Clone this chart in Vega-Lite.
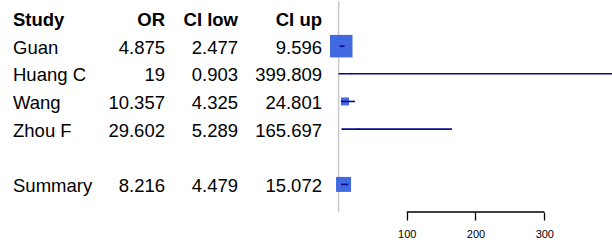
{
  "$schema": "https://vega.github.io/schema/vega-lite/v6.json",
  "padding": {"left": 13, "top": 0, "right": 0, "bottom": 0},
  "spacing": 0,
  "bounds": "flush",
  "config": {"view": {"stroke": null}, "font": "Liberation Sans"},
  "datasets": {
    "studies": [
      {"study": "Guan", "or": 4.875, "lo": 2.477, "hi": 9.596, "weight": 88, "kind": "study"},
      {"study": "Huang C", "or": 19, "lo": 0.903, "hi": 399.809, "weight": 0.4, "kind": "study"},
      {"study": "Wang", "or": 10.357, "lo": 4.325, "hi": 24.801, "weight": 11, "kind": "study"},
      {"study": "Zhou F", "or": 29.602, "lo": 5.289, "hi": 165.697, "weight": 0.6, "kind": "study"},
      {"study": "Summary", "or": 8.216, "lo": 4.479, "hi": 15.072, "weight": null, "kind": "summary"}
    ]
  },
  "hconcat": [
    {
      "width": 80, "height": 211,
      "layer": [
        {"data": {"values": [{"label": "Study"}]},
         "mark": {"type": "text", "align": "left", "baseline": "middle", "fontSize": 18.5, "fontWeight": "bold", "color": "black", "dy": 1.5},
         "encoding": {"x": {"value": 0},
           "y": {"datum": "header", "type": "nominal", "axis": null, "scale": {"type": "point", "domain": ["header", "Guan", "Huang C", "Wang", "Zhou F", "gap", "Summary"], "padding": 0.8156, "align": 0.388}},
           "text": {"field": "label", "type": "nominal"}}},
        {"data": {"name": "studies"},
         "mark": {"type": "text", "align": "left", "baseline": "middle", "fontSize": 18.5, "color": "black", "dy": 1.5},
         "encoding": {"x": {"value": 0},
           "y": {"field": "study", "type": "nominal", "axis": null, "scale": {"type": "point", "domain": ["header", "Guan", "Huang C", "Wang", "Zhou F", "gap", "Summary"], "padding": 0.8156, "align": 0.388}},
           "text": {"field": "study", "type": "nominal"}}}
      ]
    },
    {
      "width": 72, "height": 211,
      "layer": [
        {"data": {"values": [{"label": "OR"}]},
         "mark": {"type": "text", "align": "right", "baseline": "middle", "fontSize": 18.5, "fontWeight": "bold", "color": "black", "dy": 1.5},
         "encoding": {"x": {"value": "width"},
           "y": {"datum": "header", "type": "nominal", "axis": null, "scale": {"type": "point", "domain": ["header", "Guan", "Huang C", "Wang", "Zhou F", "gap", "Summary"], "padding": 0.8156, "align": 0.388}},
           "text": {"field": "label", "type": "nominal"}}},
        {"data": {"name": "studies"},
         "mark": {"type": "text", "align": "right", "baseline": "middle", "fontSize": 18.5, "color": "black", "dy": 1.5},
         "encoding": {"x": {"value": "width"},
           "y": {"field": "study", "type": "nominal", "axis": null, "scale": {"type": "point", "domain": ["header", "Guan", "Huang C", "Wang", "Zhou F", "gap", "Summary"], "padding": 0.8156, "align": 0.388}},
           "text": {"field": "or", "type": "nominal"}}}
      ]
    },
    {
      "width": 73, "height": 211,
      "layer": [
        {"data": {"values": [{"label": "CI low"}]},
         "mark": {"type": "text", "align": "right", "baseline": "middle", "fontSize": 18.5, "fontWeight": "bold", "color": "black", "dy": 1.5},
         "encoding": {"x": {"value": "width"},
           "y": {"datum": "header", "type": "nominal", "axis": null, "scale": {"type": "point", "domain": ["header", "Guan", "Huang C", "Wang", "Zhou F", "gap", "Summary"], "padding": 0.8156, "align": 0.388}},
           "text": {"field": "label", "type": "nominal"}}},
        {"data": {"name": "studies"},
         "mark": {"type": "text", "align": "right", "baseline": "middle", "fontSize": 18.5, "color": "black", "dy": 1.5},
         "encoding": {"x": {"value": "width"},
           "y": {"field": "study", "type": "nominal", "axis": null, "scale": {"type": "point", "domain": ["header", "Guan", "Huang C", "Wang", "Zhou F", "gap", "Summary"], "padding": 0.8156, "align": 0.388}},
           "text": {"field": "lo", "type": "nominal"}}}
      ]
    },
    {
      "width": 84, "height": 211,
      "layer": [
        {"data": {"values": [{"label": "CI up"}]},
         "mark": {"type": "text", "align": "right", "baseline": "middle", "fontSize": 18.5, "fontWeight": "bold", "color": "black", "dy": 1.5},
         "encoding": {"x": {"value": "width"},
           "y": {"datum": "header", "type": "nominal", "axis": null, "scale": {"type": "point", "domain": ["header", "Guan", "Huang C", "Wang", "Zhou F", "gap", "Summary"], "padding": 0.8156, "align": 0.388}},
           "text": {"field": "label", "type": "nominal"}}},
        {"data": {"name": "studies"},
         "mark": {"type": "text", "align": "right", "baseline": "middle", "fontSize": 18.5, "color": "black", "dy": 1.5},
         "encoding": {"x": {"value": "width"},
           "y": {"field": "study", "type": "nominal", "axis": null, "scale": {"type": "point", "domain": ["header", "Guan", "Huang C", "Wang", "Zhou F", "gap", "Summary"], "padding": 0.8156, "align": 0.388}},
           "text": {"field": "hi", "type": "nominal"}}}
      ]
    },
    {
      "width": 290, "height": 211,
      "layer": [
        {"data": {"values": [{"ref": 1}]},
         "mark": {"type": "rule", "color": "#c8c8c8", "strokeWidth": 1.5},
         "encoding": {"x": {"field": "ref", "type": "quantitative",
           "scale": {"domain": [-23.1, 398.4], "nice": false, "zero": false},
           "axis": {"values": [100, 200, 300], "domain": false, "grid": false, "ticks": true, "tickColor": "black", "tickSize": 8, "tickWidth": 1.3, "labelFontSize": 11, "labelColor": "black", "labelPadding": 8, "labelFont": "Liberation Sans", "title": null}}}},
        {"data": {"name": "studies"},
         "transform": [{"filter": "datum.kind === 'study'"}],
         "mark": {"type": "square", "color": "#4169E1", "opacity": 1, "filled": true},
         "encoding": {"x": {"field": "or", "type": "quantitative"},
           "y": {"field": "study", "type": "nominal", "axis": null, "scale": {"type": "point", "domain": ["header", "Guan", "Huang C", "Wang", "Zhou F", "gap", "Summary"], "padding": 0.8156, "align": 0.388}},
           "size": {"field": "weight", "type": "quantitative", "scale": {"domain": [0, 100], "range": [0, 575]}, "legend": null}}},
        {"data": {"name": "studies"},
         "transform": [{"filter": "datum.kind === 'summary'"}],
         "mark": {"type": "square", "color": "#4169E1", "opacity": 1, "filled": true, "size": 225},
         "encoding": {"x": {"field": "or", "type": "quantitative"},
           "y": {"field": "study", "type": "nominal", "axis": null, "scale": {"type": "point", "domain": ["header", "Guan", "Huang C", "Wang", "Zhou F", "gap", "Summary"], "padding": 0.8156, "align": 0.388}}}},
        {"data": {"name": "studies"},
         "mark": {"type": "rule", "color": "#0a0a8a", "strokeWidth": 1.6, "clip": true},
         "encoding": {"x": {"field": "lo", "type": "quantitative"}, "x2": {"field": "hi"},
           "y": {"field": "study", "type": "nominal", "axis": null, "scale": {"type": "point", "domain": ["header", "Guan", "Huang C", "Wang", "Zhou F", "gap", "Summary"], "padding": 0.8156, "align": 0.388}}}},
        {"data": {"values": [{"from": 100, "to": 300}]},
         "mark": {"type": "rule", "color": "black", "strokeWidth": 1.3},
         "encoding": {"x": {"field": "from", "type": "quantitative"}, "x2": {"field": "to"}, "y": {"value": "height"}}}
      ]
    }
  ]
}
